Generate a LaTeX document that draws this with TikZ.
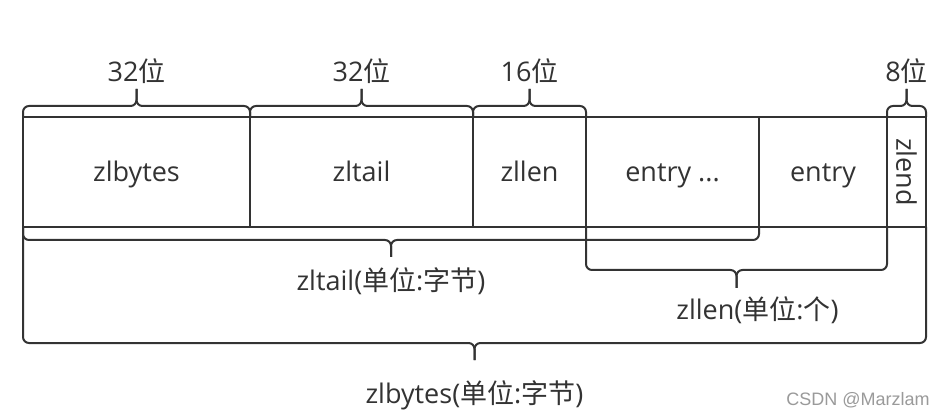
\documentclass[tikz,border=0pt]{standalone}
\usepackage{fontspec}
\setmainfont{Open Sans}
\newfontfamily\cjk{Noto Sans CJK SC}
\newfontfamily\wmfont{Liberation Sans}
\newcommand\zh[1]{{\cjk #1}}
\usetikzlibrary{positioning,calc}
\definecolor{ink}{HTML}{333333}
\definecolor{wmgray}{HTML}{9A9A9A}

\begin{document}
\begin{tikzpicture}[
    x=1pt, y=1pt,
    font=\fontsize{27}{32}\selectfont,
    % Node styles
    cell/.style={draw=ink, line width=2pt, fill=white, minimum height=110pt, inner sep=0pt, outer sep=0pt, text=ink, text height=24pt, text depth=4pt},
    bracket/.style={draw=ink, line width=2pt, rounded corners=6pt},
    label/.style={text=ink, inner sep=0pt},
]
    \fill[white] (0,0) rectangle (945,418);
    \useasboundingbox (0,0) rectangle (945,418);

    % ziplist fields
    \node[cell, minimum width=227pt, anchor=north west] (zlbytes) at (23,301) {zlbytes};
    \node[cell, minimum width=223pt, right=0pt of zlbytes] (zltail) {zltail};
    \node[cell, minimum width=113pt, right=0pt of zltail] (zllen) {zllen};
    \node[cell, minimum width=173pt, right=0pt of zllen] (entries) {entry ...};
    \node[cell, minimum width=128pt, right=0pt of entries] (entry) {entry};
    \node[cell, minimum width=39pt, text height=, text depth=, right=0pt of entry] (zlend) {\rotatebox{-90}{zlend}};

    % Field sizes
    \foreach \c/\w in {zlbytes/32, zltail/32, zllen/16, zlend/8} {
        \coordinate (\c-tip) at ($(\c.north)+(0,28)$);
        \draw[bracket] (\c.north west) -- ++(0,11) -| (\c-tip);
        \draw[bracket] (\c.north east) -- ++(0,11) -| (\c-tip);
        \node[label, above=5pt of \c-tip] (\c-bits) {\w\zh{位}};
    }

    % Offset to the last entry
    \coordinate (tail-tip) at ($(zlbytes.south west)!0.5!(entries.south east)+(0,-30)$);
    \draw[bracket] (zlbytes.south west) -- ++(0,-13) -| (tail-tip);
    \draw[bracket] (entries.south east) -- ++(0,-13) -| (tail-tip);
    \node[label, below=10pt of tail-tip] (tail-label) {zltail(\zh{单位}:\zh{字节})};

    % Number of entries
    \coordinate (len-tip) at ($(entries.south west)!0.5!(entry.south east)+(0,-61)$);
    \draw[bracket] (entries.south west) -- ++(0,-43) -| (len-tip);
    \draw[bracket] (entry.south east) -- ++(0,-43) -| (len-tip);
    \node[label, below=8pt of len-tip, xshift=21pt] (len-label) {zllen(\zh{单位}:\zh{个})};

    % Total size
    \coordinate (bytes-tip) at ($(zlbytes.south west)!0.5!(zlend.south east)+(0,-133)$);
    \draw[bracket] (zlbytes.south west) -- ++(0,-116) -| (bytes-tip);
    \draw[bracket] (zlend.south east) -- ++(0,-116) -| (bytes-tip);
    \node[label, below=20pt of bytes-tip] (bytes-label) {zlbytes(\zh{单位}:\zh{字节})};

    \node[text=wmgray, font=\wmfont\fontsize{18}{20}\selectfont] (mark) at (858,18) {CSDN @Marzlam};
\end{tikzpicture}
\end{document}
